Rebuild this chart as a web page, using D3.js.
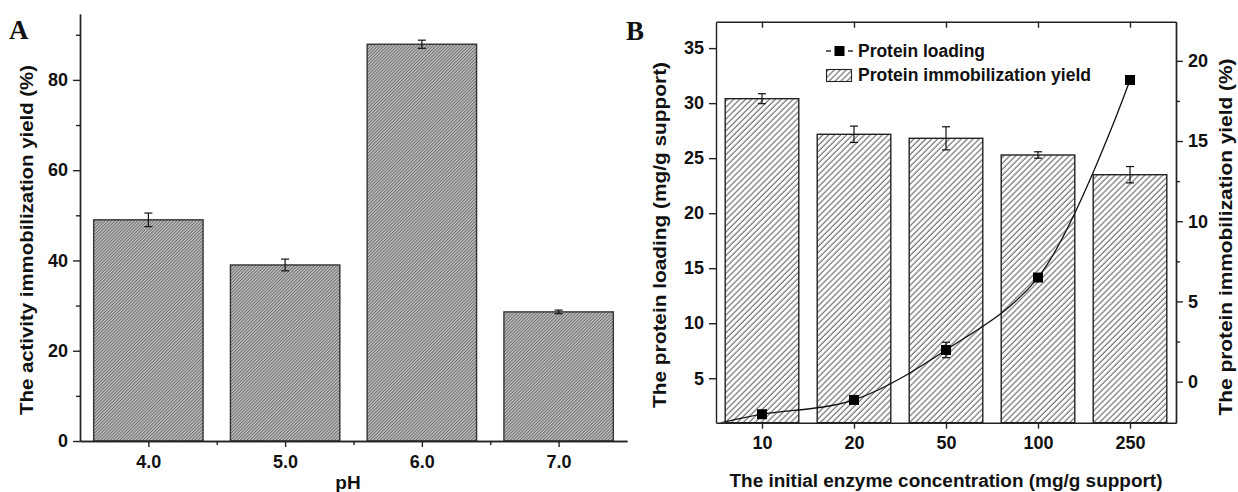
<!DOCTYPE html>
<html>
<head>
<meta charset="utf-8">
<script src="https://cdn.jsdelivr.net/npm/d3@7"></script>
<style>
  body { margin: 0; background: #fff; }
  text { font-family: "Liberation Sans", Arial, sans-serif; font-weight: bold; fill: #111; }
  .axis path, .axis line { stroke: #222; stroke-width: 1.4; }
  .axis text { font-size: 18px; }
</style>
</head>
<body>
<div id="chart"></div>
<script>
// panel A data
var phValues = [4, 5, 6, 7];
var phLabels = ["4.0", "5.0", "6.0", "7.0"];
var activityYield = [49.0, 39.0, 87.9, 28.6];
var activityErr = [1.5, 1.3, 0.9, 0.4];
var yTicksA = [0, 20, 40, 60, 80];

// panel B data
var concLabels = ["10", "20", "50", "100", "250"];
var immobYield = [17.64, 15.42, 15.17, 14.13, 12.9];
var immobErr = [0.31, 0.51, 0.72, 0.2, 0.51];
var proteinLoading = [1.73, 3.03, 7.57, 14.15, 32.1];
var loadingErr = [0.2, 0.3, 0.7, 0.3, 0.4];
var yTicksBL = [5, 10, 15, 20, 25, 30, 35];
var yTicksBR = [0, 5, 10, 15, 20];

var W = 1238, H = 492;
var svg = d3.select("#chart").append("svg")
    .attr("width", W).attr("height", H);

var defs = svg.append("defs");
var patA = defs.append("pattern").attr("id", "hatchA")
    .attr("patternUnits", "userSpaceOnUse")
    .attr("width", 2.3).attr("height", 10)
    .attr("patternTransform", "rotate(45)");
patA.append("rect").attr("width", 2.3).attr("height", 10).attr("fill", "#c0c0c0");
patA.append("line").attr("x1", 0.5).attr("x2", 0.5).attr("y1", 0).attr("y2", 10)
    .attr("stroke", "#666").attr("stroke-width", 0.9);

var patB = defs.append("pattern").attr("id", "hatchB")
    .attr("patternUnits", "userSpaceOnUse")
    .attr("width", 4.2).attr("height", 10)
    .attr("patternTransform", "rotate(45)");
patB.append("rect").attr("width", 4.2).attr("height", 10).attr("fill", "#fff");
patB.append("line").attr("x1", 1).attr("x2", 1).attr("y1", 0).attr("y2", 10)
    .attr("stroke", "#444").attr("stroke-width", 0.9);

// titles get stretched to the width they have in the figure
function title(g, txt, len) {
  return g.append("text").attr("text-anchor", "middle").style("font-size", "18px")
      .attr("textLength", len).attr("lengthAdjust", "spacingAndGlyphs").text(txt);
}

// ---------- panel A ----------
var xA = d3.scaleLinear().domain([3.5, 7.5]).range([80, 627]);
var yA = d3.scaleLinear().domain([0, 94.6]).range([441, 14]);
var bwA = xA(4.4) - xA(3.6);

var gA = svg.append("g");
gA.selectAll("rect.bar").data(phValues).enter().append("rect")
    .attr("class", "bar")
    .attr("x", function(d) { return xA(d - 0.4); })
    .attr("width", bwA)
    .attr("y", function(d, i) { return yA(activityYield[i]); })
    .attr("height", function(d, i) { return yA(0) - yA(activityYield[i]); })
    .attr("fill", "url(#hatchA)")
    .attr("stroke", "#333").attr("stroke-width", 1.4);

function errBars(g, xs, ys, es, x, y, cap) {
  var eb = g.selectAll("g.err").data(xs).enter().append("g").attr("class", "err")
      .attr("stroke", "#111").attr("stroke-width", 1.2);
  eb.append("line")
      .attr("x1", function(d) { return x(d); }).attr("x2", function(d) { return x(d); })
      .attr("y1", function(d, i) { return y(ys[i] + es[i]); })
      .attr("y2", function(d, i) { return y(ys[i] - es[i]); });
  [1, -1].forEach(function(s) {
    eb.append("line")
      .attr("x1", function(d) { return x(d) - cap; }).attr("x2", function(d) { return x(d) + cap; })
      .attr("y1", function(d, i) { return y(ys[i] + s * es[i]); })
      .attr("y2", function(d, i) { return y(ys[i] + s * es[i]); });
  });
}
errBars(gA, phValues, activityYield, activityErr, xA, yA, 4);

gA.append("g").attr("class", "axis")
    .attr("transform", "translate(80,0)")
    .call(d3.axisLeft(yA).tickValues(yTicksA).tickSize(7).tickSizeOuter(0).tickPadding(5));
gA.append("g").attr("class", "axis")
    .attr("transform", "translate(80,0)")
    .call(d3.axisLeft(yA).tickValues([10, 30, 50, 70, 90]).tickSize(4).tickFormat("").tickSizeOuter(0));
gA.append("g").attr("class", "axis")
    .attr("transform", "translate(0,441)")
    .call(d3.axisBottom(xA).tickValues(phValues).tickFormat(function(d, i) { return phLabels[i]; })
      .tickSize(6).tickSizeOuter(0).tickPadding(8));
gA.append("g").attr("class", "axis")
    .attr("transform", "translate(0,441)")
    .call(d3.axisBottom(xA).tickValues([4.5, 5.5, 6.5]).tickFormat("").tickSize(4).tickSizeOuter(0));

title(gA, "The activity immobilization yield (%)", 350)
    .attr("transform", "translate(33,240) rotate(-90)");
gA.append("text").attr("x", 348).attr("y", 489).attr("text-anchor", "middle")
    .style("font-size", "19px").text("pH");
gA.append("text").attr("x", 9).attr("y", 39)
    .style("font-family", "'Liberation Serif', 'Times New Roman', serif")
    .style("font-size", "27px").text("A");

// ---------- panel B ----------
var xB = d3.scaleLinear().domain([0.5, 5.5]).range([716, 1176]);
var yBL = d3.scaleLinear().domain([0.96, 37.4]).range([422.7, 21.7]);
var yBR = d3.scaleLinear().domain([-2.56, 22.44]).range([422.7, 21.7]);
var idx = concLabels.map(function(d, i) { return i + 1; });
var bwB = xB(1.4) - xB(0.6);

var gB = svg.append("g");
gB.selectAll("rect.bar").data(idx).enter().append("rect")
    .attr("class", "bar")
    .attr("x", function(d) { return xB(d - 0.4); })
    .attr("width", bwB)
    .attr("y", function(d, i) { return yBR(immobYield[i]); })
    .attr("height", function(d, i) { return yBR.range()[0] - yBR(immobYield[i]); })
    .attr("fill", "url(#hatchB)")
    .attr("stroke", "#222").attr("stroke-width", 1.4);
errBars(gB.append("g"), idx, immobYield, immobErr, xB, yBR, 4);

// protein loading line, clipped to the frame
defs.append("clipPath").attr("id", "clipB").append("rect")
    .attr("x", 716).attr("y", 21.7).attr("width", 460).attr("height", 401);
var lead = proteinLoading[0] - 0.6 * (proteinLoading[1] - proteinLoading[0]);
var linePts = [[0.55, lead]].concat(idx.map(function(d, i) { return [d, proteinLoading[i]]; }));
gB.append("path")
    .attr("clip-path", "url(#clipB)")
    .attr("d", d3.line().x(function(d) { return xB(d[0]); }).y(function(d) { return yBL(d[1]); })
      .curve(d3.curveCatmullRom.alpha(0.5))(linePts))
    .attr("fill", "none").attr("stroke", "#111").attr("stroke-width", 1.3);
errBars(gB.append("g"), idx, proteinLoading, loadingErr, xB, yBL, 4);
gB.selectAll("rect.pt").data(idx).enter().append("rect")
    .attr("class", "pt")
    .attr("x", function(d) { return xB(d) - 5; })
    .attr("y", function(d, i) { return yBL(proteinLoading[i]) - 5; })
    .attr("width", 10).attr("height", 10).attr("fill", "#000");

// frame and axes
gB.append("g").attr("class", "axis")
    .attr("transform", "translate(716,0)")
    .call(d3.axisLeft(yBL).tickValues(yTicksBL).tickSize(7).tickSizeOuter(0).tickPadding(5));
gB.append("g").attr("class", "axis")
    .attr("transform", "translate(1176,0)")
    .call(d3.axisRight(yBR).tickValues(yTicksBR).tickSize(7).tickSizeOuter(0).tickPadding(5));
gB.append("g").attr("class", "axis")
    .attr("transform", "translate(1176,0)")
    .call(d3.axisRight(yBR).tickValues([2.5, 7.5, 12.5, 17.5]).tickSize(4).tickFormat("").tickSizeOuter(0));
gB.append("g").attr("class", "axis")
    .attr("transform", "translate(0,422.7)")
    .call(d3.axisBottom(xB).tickValues(idx).tickFormat(function(d, i) { return concLabels[i]; })
      .tickSize(6).tickSizeOuter(0).tickPadding(8));
gB.append("g").attr("class", "axis")
    .attr("transform", "translate(0,21.7)")
    .call(d3.axisTop(xB).tickValues(idx).tickFormat("").tickSize(-6).tickSizeOuter(0));

title(gB, "The protein loading (mg/g support)", 346)
    .attr("transform", "translate(666,235) rotate(-90)");
title(gB, "The protein immobilization yield (%)", 357)
    .attr("transform", "translate(1232,237) rotate(-90)");
title(gB, "The initial enzyme concentration (mg/g support)", 433)
    .attr("x", 946).attr("y", 487);
gB.append("text").attr("x", 626).attr("y", 40)
    .style("font-family", "'Liberation Serif', 'Times New Roman', serif")
    .style("font-size", "27px").text("B");

// legend
var lg = gB.append("g");
lg.append("line").attr("x1", 826).attr("x2", 831).attr("y1", 51).attr("y2", 51)
    .attr("stroke", "#111").attr("stroke-width", 1.3);
lg.append("line").attr("x1", 848).attr("x2", 853).attr("y1", 51).attr("y2", 51)
    .attr("stroke", "#111").attr("stroke-width", 1.3);
lg.append("rect").attr("x", 834.5).attr("y", 46).attr("width", 10).attr("height", 10).attr("fill", "#000");
lg.append("rect").attr("x", 826.5).attr("y", 69.5).attr("width", 25).attr("height", 12)
    .attr("fill", "url(#hatchB)").attr("stroke", "#222").attr("stroke-width", 1.1);
title(lg, "Protein loading", 127).attr("text-anchor", "start").attr("x", 858).attr("y", 57);
title(lg, "Protein immobilization yield", 233).attr("text-anchor", "start").attr("x", 858).attr("y", 81);
</script>
</body>
</html>
